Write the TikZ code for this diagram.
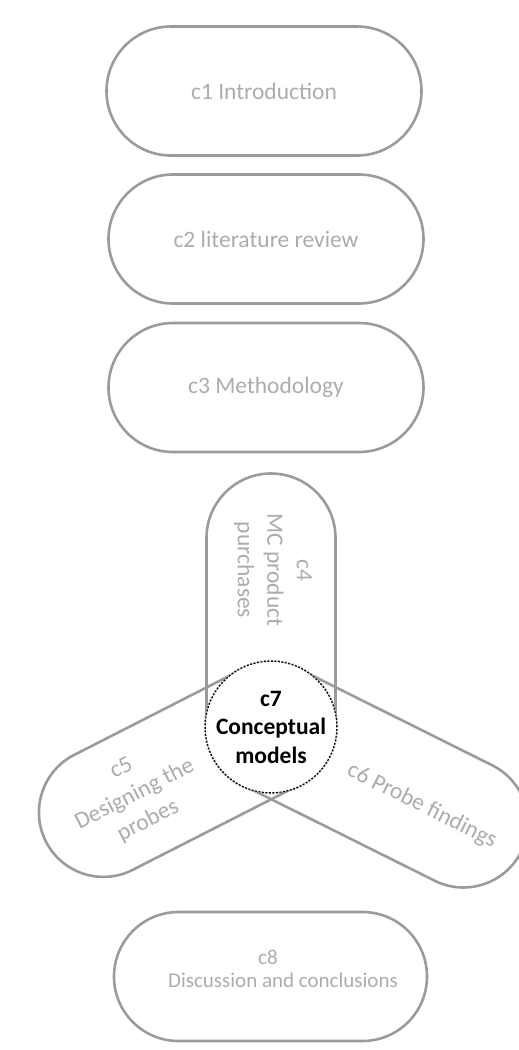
\documentclass[tikz,border=0pt]{standalone}
\usepackage{fontspec}
\setmainfont{Carlito}
\usetikzlibrary{shapes.misc}
\definecolor{edgegray}{RGB}{155,155,155}
\definecolor{labelgray}{RGB}{172,172,172}
\begin{document}
\begin{tikzpicture}[x=1pt,y=-1pt,
  chapter/.style={rounded rectangle, draw=edgegray, line width=2.6pt,
                  inner sep=0pt, minimum height=129pt},
  chaptext/.style={text=labelgray, align=center, inner sep=0pt,
                   font=\fontsize{23.5}{29.5}\selectfont},
  hub/.style={circle, fill=white, draw=black, line width=1.1pt,
              dash pattern=on 2pt off 1.5pt, minimum size=129pt, inner sep=0pt,
              preaction={draw=edgegray, line width=2.6pt},
              align=center, font=\bfseries\fontsize{23.5}{28.5}\selectfont}
]
\useasboundingbox (0,0) rectangle (519,1050);

% linear chapters at the top
\node[chapter, minimum width=315pt, chaptext] (c1) at (264,91) {c1 Introduction};
\node[chapter, minimum width=315pt, chaptext] (c2) at (266,239) {c2 literature review};
\node[chapter, minimum width=315pt, chaptext] (c3) at (266,387.5) {c3 Methodology};

% three arms meeting in the conceptual-model hub
\node[chapter, minimum width=318pt, rotate=90] (c4) at (271,632.5) {};
\node[chapter, minimum width=317pt, rotate=27] (c5) at (187.2,769.7) {};
\node[chapter, minimum width=344pt, rotate=-26.5] (c6) at (367.2,775) {};

\node[chaptext, rotate=-90] (t4) at (273,570) {c4\\MC product\\purchases};
\node[chaptext, rotate=27] (t5) at (135,795) {c5\\Designing the\\probes};
\node[chaptext, rotate=-26.5] (t6) at (422,806) {c6 Probe findings};

\node[hub] (c7) at (271,727) {c7\\Conceptual\\models};

% closing chapter
\node[chapter, minimum width=313pt] (c8) at (270.5,976.5) {};
\node[chaptext, font=\fontsize{21}{25}\selectfont] (t8a) at (268,957) {c8};
\node[chaptext, font=\fontsize{21}{25}\selectfont] (t8b) at (283,980) {Discussion and conclusions};
\end{tikzpicture}
\end{document}
